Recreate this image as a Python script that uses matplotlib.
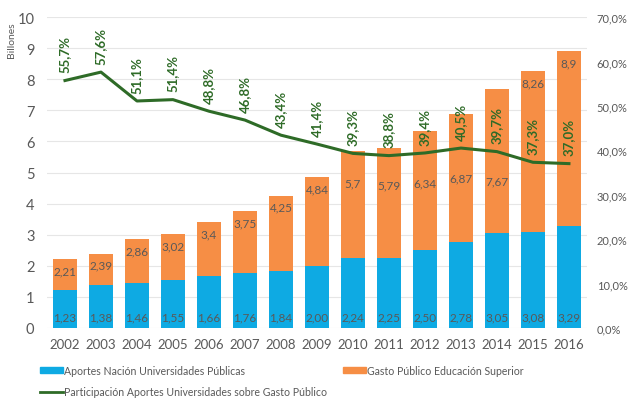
import matplotlib.pyplot as plt
from matplotlib.patches import Patch
from matplotlib.lines import Line2D

plt.rcParams['font.family'] = ['Lato', 'DejaVu Sans']

# Data
years = ["2002", "2003", "2004", "2005", "2006", "2007", "2008", "2009",
         "2010", "2011", "2012", "2013", "2014", "2015", "2016"]
aportes = [1.23, 1.38, 1.46, 1.55, 1.66, 1.76, 1.84, 2.00,
           2.24, 2.25, 2.50, 2.78, 3.05, 3.08, 3.29]
gasto = [2.21, 2.39, 2.86, 3.02, 3.4, 3.75, 4.25, 4.84,
         5.7, 5.79, 6.34, 6.87, 7.67, 8.26, 8.9]
participacion = [55.7, 57.6, 51.1, 51.4, 48.8, 46.8, 43.4, 41.4,
                 39.3, 38.8, 39.4, 40.5, 39.7, 37.3, 37.0]
aportes_lbl = ["1,23", "1,38", "1,46", "1,55", "1,66", "1,76", "1,84", "2,00",
               "2,24", "2,25", "2,50", "2,78", "3,05", "3,08", "3,29"]
gasto_lbl = ["2,21", "2,39", "2,86", "3,02", "3,4", "3,75", "4,25", "4,84",
             "5,7", "5,79", "6,34", "6,87", "7,67", "8,26", "8,9"]

blue = "#0EAAE3"
orange = "#F68E45"
green = "#2E6B27"
gray = "#595959"

fig = plt.figure(figsize=(6.4, 4.02), dpi=100)
ax = fig.add_axes([0.0734, 0.1816, 0.8437, 0.7736])
x = list(range(len(years)))

ax.bar(x, gasto, width=0.66, color=orange, zorder=2)
ax.bar(x, aportes, width=0.66, color=blue, zorder=3)

# scale between the two y axes (left 0-10, right 0-70 %)
k = 10 / 70
for i in x:
    y_lbl = gasto[i] - 0.37
    line_y = participacion[i] * k
    # move the label under the line when the percentage label would cover it
    if line_y - 0.5 < y_lbl < line_y + 1.7:
        y_lbl = line_y - 0.95
    ax.text(i, y_lbl, gasto_lbl[i], ha="center", va="center",
            fontsize=8.5, color=gray, zorder=4)
    ax.text(i, 0.36, aportes_lbl[i], ha="center", va="center",
            fontsize=8.5, color=gray, zorder=4)

ax.set_ylim(0, 10)
ax.set_xlim(-0.5, 14.5)
ax.set_yticks(range(0, 11))
ax.set_xticks(x)
ax.set_xticklabels(years)
ax.tick_params(axis="y", length=0, labelsize=10.5, labelcolor=gray, pad=9)
ax.tick_params(axis="x", length=0, labelsize=9.5, labelcolor=gray, pad=7)
ax.grid(axis="y", color="#E6E6E6", linewidth=0.8, zorder=0)
ax.set_axisbelow(True)
for s in ax.spines.values():
    s.set_visible(False)
ax.set_ylabel("Billones", fontsize=7.5, color=gray)
ax.yaxis.set_label_coords(-0.058, 0.93)

ax2 = ax.twinx()
ax2.set_ylim(0, 70)
ax2.set_yticks(range(0, 80, 10))
ax2.set_yticklabels([f"{v},0%" for v in range(0, 80, 10)])
ax2.tick_params(axis="y", length=0, labelsize=8, labelcolor=gray, pad=7)
for s in ax2.spines.values():
    s.set_visible(False)
ax2.plot(x, participacion, color=green, linewidth=2.2, zorder=5)
for i in x:
    ax2.annotate(f"{participacion[i]:.1f}%".replace(".", ","),
                 (i, participacion[i]), xytext=(0, 6),
                 textcoords="offset points", rotation=90, ha="center",
                 va="bottom", fontsize=9.5, fontweight="bold", color=green)

handles = [Patch(color=blue), Line2D([0], [0], color=green, linewidth=2),
           Patch(color=orange)]
labels = ["Aportes Nación Universidades Públicas",
          "Participación Aportes Universidades sobre Gasto Público",
          "Gasto Público Educación Superior"]
fig.legend(handles, labels, ncol=2, loc="upper left",
           bbox_to_anchor=(0.062, 0.09), frameon=False, fontsize=7.6,
           labelcolor=gray, handlelength=2.2, handleheight=0.57,
           handletextpad=0.1, columnspacing=1.5, labelspacing=1.0,
           borderaxespad=0, borderpad=0)

plt.savefig("out.png", dpi=100)
